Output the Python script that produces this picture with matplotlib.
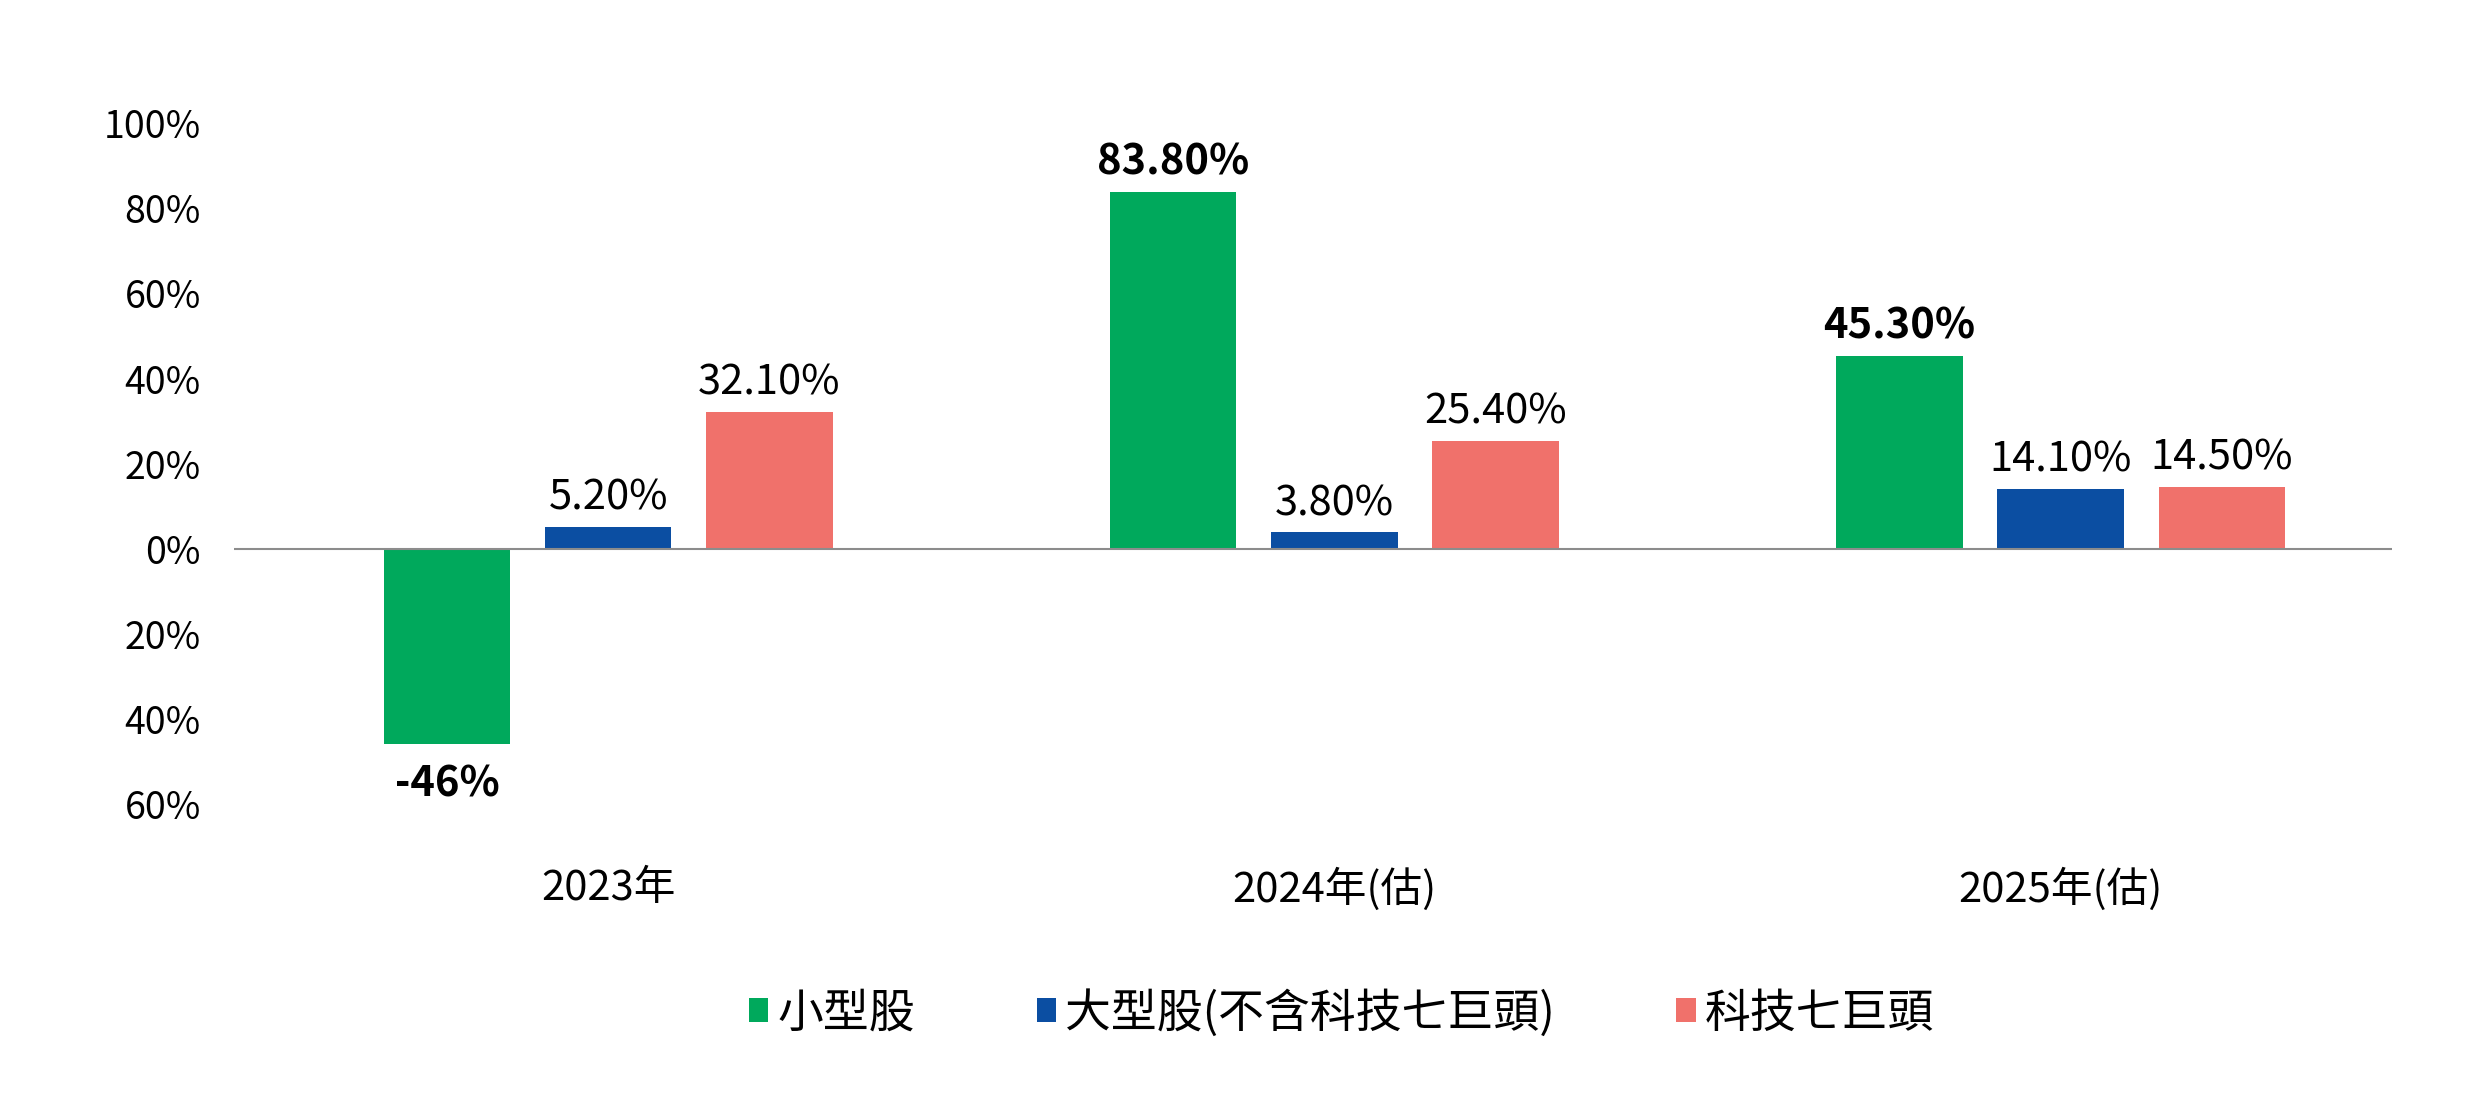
import matplotlib
matplotlib.use("Agg")
import matplotlib.pyplot as plt
import numpy as np
from matplotlib.ticker import FuncFormatter

plt.rcParams['font.family'] = ['Noto Sans CJK TC', 'DejaVu Sans']

CATEGORIES = ["2023年", "2024年(估)", "2025年(估)"]
SERIES_NAMES = ["小型股", "大型股(不含科技七巨頭)", "科技七巨頭"]
SMALL_CAP = [-46, 83.8, 45.3]
LARGE_CAP = [5.2, 3.8, 14.1]
TECH7 = [32.1, 25.4, 14.5]
SMALL_LABELS = ["-46%", "83.80%", "45.30%"]
LARGE_LABELS = ["5.20%", "3.80%", "14.10%"]
TECH7_LABELS = ["32.10%", "25.40%", "14.50%"]
Y_TICKS = [-60, -40, -20, 0, 20, 40, 60, 80, 100]

COLORS = ["#00A95C", "#0B4EA2", "#F0716B"]

fig = plt.figure(figsize=(24.8, 10.98), dpi=100)
ax = fig.add_axes([0.0944, 0.268, 0.870, 0.6196])

x = np.arange(len(CATEGORIES))
width = 0.174
step = 0.222

series = [
    (SMALL_CAP, SMALL_LABELS, True),
    (LARGE_CAP, LARGE_LABELS, False),
    (TECH7, TECH7_LABELS, False),
]

for i, (vals, labels, bold) in enumerate(series):
    bars = ax.bar(x + (i - 1) * step, vals, width, color=COLORS[i],
                  label=SERIES_NAMES[i], zorder=2)
    for b, v, lab in zip(bars, vals, labels):
        cx = b.get_x() + b.get_width() / 2
        if v >= 0:
            ax.annotate(lab, (cx, v), xytext=(0, 6), textcoords="offset points",
                        ha="center", va="bottom", fontsize=30,
                        fontweight="bold" if bold else "light")
        else:
            ax.annotate(lab, (cx, v), xytext=(0, -14), textcoords="offset points",
                        ha="center", va="top", fontsize=30,
                        fontweight="bold" if bold else "light")

ax.axhline(0, color="#8c8c8c", lw=1.5, zorder=3)

ax.set_xlim(-0.515, 2.456)
ax.set_ylim(-60, 100)
ax.set_yticks(Y_TICKS)
ax.yaxis.set_major_formatter(FuncFormatter(lambda v, p: f"{abs(v):.0f}%"))
ax.set_xticks(x)
ax.set_xticklabels(CATEGORIES)
ax.tick_params(axis="y", length=0, pad=24, labelsize=27)
ax.tick_params(axis="x", length=0, pad=46, labelsize=30)
for t in ax.get_yticklabels() + ax.get_xticklabels():
    t.set_fontweight("light")

for s in ax.spines.values():
    s.set_visible(False)

leg = fig.legend(loc="center", bbox_to_anchor=(0.541, 0.077), ncol=3,
                 frameon=False, fontsize=33, handlelength=0.42,
                 handleheight=0.42, handletextpad=0.2, columnspacing=2.65)
for t in leg.get_texts():
    t.set_fontweight("light")

fig.savefig("out.png", dpi=100, facecolor="white")
